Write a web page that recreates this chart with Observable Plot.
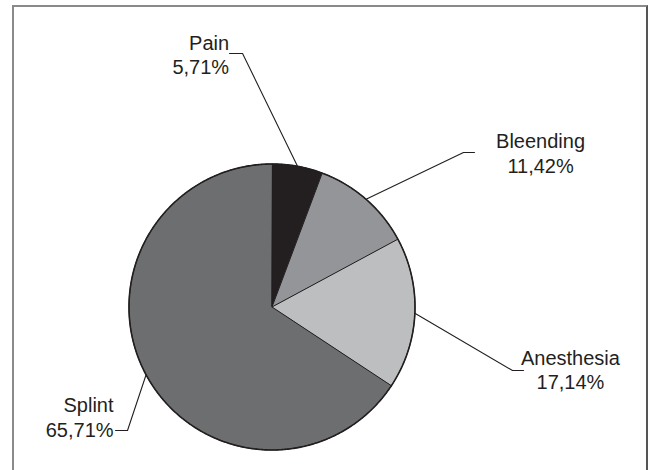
<!DOCTYPE html>
<html>
<head>
<meta charset="utf-8">
<script src="https://cdn.jsdelivr.net/npm/d3@7"></script>
<script src="https://cdn.jsdelivr.net/npm/@observablehq/plot@0.6"></script>
<style>
  html, body { margin: 0; padding: 0; background: #fff; overflow: hidden; }
  #wrap { position: relative; width: 659px; height: 470px; }
  #frame { position: absolute; left: 12px; top: 5px; width: 636px; height: 500px;
           border: 2px solid #8a8a8a; border-right-color: #555; box-sizing: border-box; }
  #chart { position: absolute; left: 0; top: 0; }
</style>
</head>
<body>
<div id="wrap"><div id="frame"></div><div id="chart"></div></div>
<script>
// ---- data ----
const categories = ["Pain", "Bleending", "Anesthesia", "Splint"];
const values = [5.71, 11.42, 17.14, 65.71];
const colors = ["#231f20", "#939598", "#bcbec0", "#6d6e70"];

// ---- label layout (in pie-radius units, relative to centre) ----
const labelLayout = [
  {elbow: [-0.206, 1.773], end: [-0.297, 1.773], text: [-0.300, 1.766], anchor: "end"},
  {elbow: [1.339, 1.080],  end: [1.416, 1.080],  text: [1.878, 1.080],  anchor: "middle"},
  {elbow: [1.682, -0.444], end: [1.759, -0.444], text: [2.087, -0.437], anchor: "middle"},
  {elbow: [-1.0105, -0.8636], end: [-1.094, -0.8636], text: [-1.108, -0.766], anchor: "end"}
];

const fmt = v => v.toFixed(2).replace(".", ",") + "%";

const arcs = d3.pie().sort(null).value(d => d)(values);

// slice polygons in unit coordinates
const slices = arcs.map((a, i) => {
  const pts = [{x: 0, y: 0}];
  const n = Math.max(8, Math.ceil((a.endAngle - a.startAngle) / 0.01));
  for (let k = 0; k <= n; k++) {
    const t = a.startAngle + (a.endAngle - a.startAngle) * k / n;
    pts.push({x: Math.sin(t), y: Math.cos(t)});
  }
  return pts;
});

// leader lines
const leaders = [];
arcs.forEach((a, i) => {
  const m = (a.startAngle + a.endAngle) / 2;
  const L = labelLayout[i];
  leaders.push({k: i, x: Math.sin(m), y: Math.cos(m)});
  leaders.push({k: i, x: L.elbow[0], y: L.elbow[1]});
  leaders.push({k: i, x: L.end[0], y: L.end[1]});
});

const labels = categories.map((c, i) => ({
  x: labelLayout[i].text[0], y: labelLayout[i].text[1],
  anchor: labelLayout[i].anchor,
  label: c + "\n" + fmt(values[i])
}));

const marks = [];
slices.forEach((pts, i) => {
  marks.push(Plot.line(pts, {x: "x", y: "y", curve: "linear-closed",
    fill: colors[i], stroke: "#231f20", strokeWidth: 1, strokeLinejoin: "round"}));
});
// outer outline
const ring = d3.range(0, 629).map(k => ({x: Math.sin(k / 100), y: Math.cos(k / 100)}));
marks.push(Plot.line(ring, {x: "x", y: "y", curve: "linear-closed", stroke: "#231f20", strokeWidth: 1.6}));
marks.push(Plot.line(leaders, {x: "x", y: "y", z: "k", stroke: "#231f20", strokeWidth: 1.1}));
["end", "middle"].forEach(anc => {
  marks.push(Plot.text(labels.filter(d => d.anchor === anc), {
    x: "x", y: "y", text: "label", textAnchor: anc, lineHeight: 1.22,
    fontSize: 20, fill: "#231f20"
  }));
});

const chart = Plot.plot({
  width: 659,
  height: 470,
  marginLeft: 128.5,
  marginRight: 244.5,
  marginTop: 163.5,
  marginBottom: 20.5,
  x: {domain: [-1, 1], axis: null},
  y: {domain: [-1, 1], axis: null},
  style: {fontFamily: "'Liberation Sans', Arial, sans-serif", background: "transparent", overflow: "visible"},
  marks
});
document.getElementById("chart").appendChild(chart);
</script>
</body>
</html>
